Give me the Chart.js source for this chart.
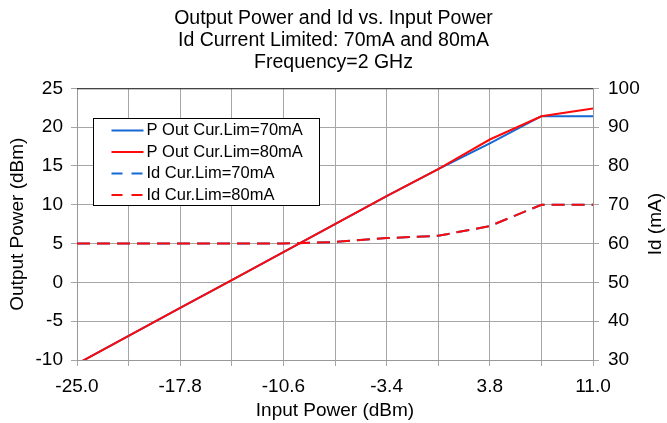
<!DOCTYPE html>
<html>
<head>
<meta charset="utf-8">
<script src="https://cdn.jsdelivr.net/npm/chart.js@4.4.1/dist/chart.umd.min.js"></script>
<style>
  html, body { margin: 0; padding: 0; background: #fff; }
  #wrap { width: 667px; height: 423px; }
</style>
</head>
<body>
<div id="wrap"><canvas id="myChart" width="667" height="423"></canvas></div>
<script>
// input power sweep (dBm)
var pin = [-25, -21.4, -17.8, -14.2, -10.6, -7, -3.4, 0.2, 3.8, 7.4, 11];
// output power (dBm)
var poutLim70 = [-10.5, -6.9, -3.3, 0.3, 3.9, 7.5, 11.1, 14.6, 17.9, 21.4, 21.4];
var poutLim80 = [-10.5, -6.9, -3.3, 0.3, 3.9, 7.5, 11.1, 14.6, 18.4, 21.4, 22.4];
// drain current (mA)
var idLim70 = [60, 60, 60, 60, 60, 60.4, 61.4, 62, 64.5, 70, 70];
var idLim80 = [60, 60, 60, 60, 60, 60.4, 61.4, 62, 64.5, 70, 70];

var xTicks = [-25, -21.4, -17.8, -14.2, -10.6, -7, -3.4, 0.2, 3.8, 7.4, 11];
var xTickLabels = ['-25.0', '', '-17.8', '', '-10.6', '', '-3.4', '', '3.8', '', '11.0'];

var titleLines = ['Output Power and Id vs. Input Power', 'Id Current Limited: 70mA and 80mA', 'Frequency=2 GHz'];

var blue = '#1469d4';
var red = '#ff0a0a';
var font = "'Liberation Sans', Arial, sans-serif";

function pts(xs, ys) {
    var out = [];
    for (var i in xs) {
        out.push({ x: xs[i], y: ys[i] });
    }
    return out;
}

// legend inside the plot + dark top border + right axis title (reads bottom to top)
var extras = {
    id: 'extras',
    afterDraw: function (chart) {
        var ctx = chart.ctx;
        var a = chart.chartArea;
        ctx.save();
        ctx.strokeStyle = '#222';
        ctx.lineWidth = 1;
        ctx.beginPath();
        ctx.moveTo(a.left, a.top + 0.5);
        ctx.lineTo(a.right, a.top + 0.5);
        ctx.stroke();

        // legend box
        var bx = 93.5, by = 118.5, bw = 226, bh = 87;
        ctx.fillStyle = '#fff';
        ctx.fillRect(bx, by, bw, bh);
        ctx.strokeStyle = '#000';
        ctx.strokeRect(bx, by, bw, bh);
        ctx.font = '16.5px ' + font;
        ctx.textBaseline = 'middle';
        chart.data.datasets.forEach(function (ds, i) {
            var y = by + 12 + i * 21.5;
            ctx.strokeStyle = ds.borderColor;
            ctx.lineWidth = 2;
            ctx.setLineDash(ds.borderDash ? [11, 9] : []);
            ctx.beginPath();
            ctx.moveTo(bx + 18, y);
            ctx.lineTo(bx + 50, y);
            ctx.stroke();
            ctx.setLineDash([]);
            ctx.fillStyle = '#000';
            ctx.fillText(ds.label, bx + 53, y);
        });

        ctx.translate(656, (a.top + a.bottom) / 2);
        ctx.rotate(-Math.PI / 2);
        ctx.textAlign = 'center';
        ctx.font = '19px ' + font;
        ctx.fillText('Id (mA)', 0, 0);
        ctx.restore();
    }
};

var chartdata = {
    datasets: [
        {
            label: 'P Out Cur.Lim=70mA',
            data: pts(pin, poutLim70),
            borderColor: blue,
            borderWidth: 2,
            yAxisID: 'y',
            order: 1
        },
        {
            label: 'P Out Cur.Lim=80mA',
            data: pts(pin, poutLim80),
            borderColor: red,
            borderWidth: 2,
            yAxisID: 'y',
            order: 0
        },
        {
            label: 'Id Cur.Lim=70mA',
            data: pts(pin, idLim70),
            borderColor: blue,
            borderWidth: 2,
            borderDash: [13, 7],
            yAxisID: 'y1',
            order: 1
        },
        {
            label: 'Id Cur.Lim=80mA',
            data: pts(pin, idLim80),
            borderColor: red,
            borderWidth: 2,
            borderDash: [13, 7],
            yAxisID: 'y1',
            order: 0
        }
    ]
};

var ctx = document.getElementById('myChart');
var myChart = new Chart(ctx, {
    type: 'line',
    data: chartdata,
    plugins: [extras],
    options: {
        responsive: false,
        animation: false,
        events: [],
        elements: {
            point: { radius: 0 },
            line: { tension: 0 }
        },
        plugins: {
            legend: { display: false },
            tooltip: { enabled: false },
            title: {
                display: true,
                text: titleLines,
                color: '#000',
                font: { family: font, size: 19.5, weight: 'normal', lineHeight: 1.15 },
                padding: { top: 7, bottom: 14 }
            }
        },
        scales: {
            x: {
                type: 'linear',
                min: -25,
                max: 11,
                afterBuildTicks: function (scale) {
                    scale.ticks = xTicks.map(function (v) { return { value: v }; });
                },
                afterFit: function (scale) { scale.height = 63; },
                ticks: {
                    autoSkip: false,
                    maxRotation: 0,
                    color: '#000',
                    font: { family: font, size: 19 },
                    padding: 9,
                    callback: function (v, i) { return xTickLabels[i]; }
                },
                grid: { color: '#a6a6a6', tickLength: 6, tickColor: '#a6a6a6' },
                border: { color: '#999' },
                title: {
                    display: true,
                    text: 'Input Power (dBm)',
                    color: '#000',
                    font: { family: font, size: 19 },
                    padding: { top: 0, bottom: 1 }
                }
            },
            y: {
                position: 'left',
                min: -10,
                max: 25,
                afterFit: function (scale) { scale.width = 77; },
                ticks: {
                    stepSize: 5,
                    color: '#000',
                    font: { family: font, size: 19 },
                    padding: 8
                },
                grid: { color: '#a6a6a6', tickLength: 6, tickColor: '#a6a6a6' },
                border: { color: '#999' },
                title: {
                    display: true,
                    text: 'Output Power (dBm)',
                    color: '#000',
                    font: { family: font, size: 19 },
                    padding: { top: 6 }
                }
            },
            y1: {
                position: 'right',
                min: 30,
                max: 100,
                afterFit: function (scale) { scale.width = 74; },
                ticks: {
                    stepSize: 10,
                    color: '#000',
                    font: { family: font, size: 19 },
                    padding: 9
                },
                grid: { drawOnChartArea: false, tickLength: 6, color: '#a6a6a6' },
                border: { color: '#999' }
            }
        }
    }
});
</script>
</body>
</html>
